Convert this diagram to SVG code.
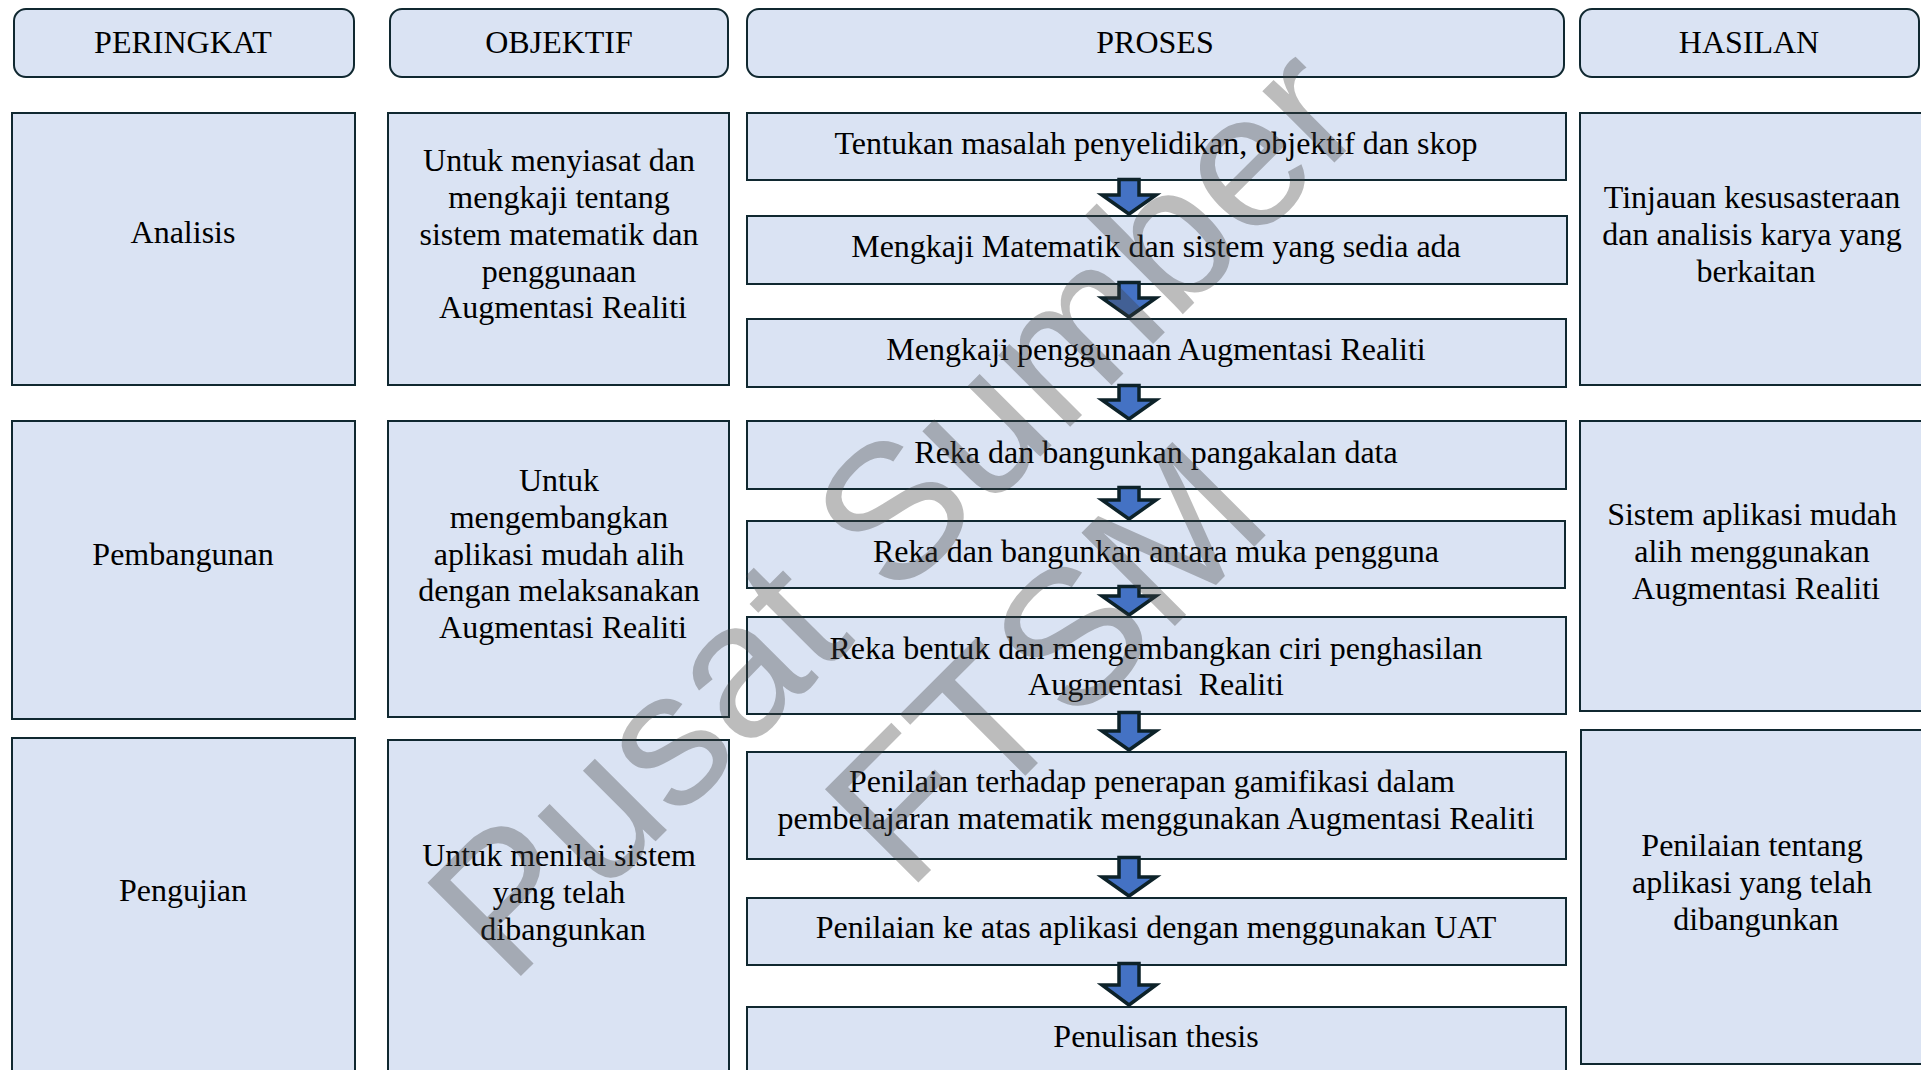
<svg xmlns="http://www.w3.org/2000/svg" width="1921" height="1070" viewBox="0 0 1921 1070">
  <style>
    .box { fill: #DAE3F3; stroke: #102830; stroke-width: 2; }
    .lbl { font-family: "Liberation Serif", "Times New Roman", serif; font-size: 32px; fill: #000; text-anchor: middle; }
    .arrow { fill: #4472C4; stroke: #0D2229; stroke-width: 3.5; stroke-linejoin: miter; }
    .wm { font-family: "Liberation Sans", Arial, sans-serif; font-size: 192px; fill: #404040; fill-opacity: 0.35; text-anchor: middle; }
  </style>
  <rect width="1921" height="1070" fill="#FFFFFF"/>

  <!-- column headers -->
  <g id="hdr-peringkat">
    <rect class="box" x="14" y="9" width="340" height="68" rx="12"/>
    <text class="lbl" x="183" y="53">PERINGKAT</text>
  </g>
  <g id="hdr-objektif">
    <rect class="box" x="390" y="9" width="338" height="68" rx="12"/>
    <text class="lbl" x="559" y="53">OBJEKTIF</text>
  </g>
  <g id="hdr-proses">
    <rect class="box" x="747" y="9" width="817" height="68" rx="12"/>
    <text class="lbl" x="1155" y="53">PROSES</text>
  </g>
  <g id="hdr-hasilan">
    <rect class="box" x="1580" y="9" width="339" height="68" rx="12"/>
    <text class="lbl" x="1749" y="53">HASILAN</text>
  </g>

  <!-- stage column -->
  <g id="stage-analisis">
    <rect class="box" x="12" y="113" width="343" height="272"/>
    <text class="lbl" x="183" y="243">Analisis</text>
  </g>
  <g id="stage-pembangunan">
    <rect class="box" x="12" y="421" width="343" height="298"/>
    <text class="lbl" x="183" y="565">Pembangunan</text>
  </g>
  <g id="stage-pengujian">
    <rect class="box" x="12" y="738" width="343" height="345"/>
    <text class="lbl" x="183" y="901">Pengujian</text>
  </g>

  <!-- objective column -->
  <g id="obj-analisis">
    <rect class="box" x="388" y="113" width="341" height="272"/>
    <text class="lbl" x="563" y="171">
      <tspan x="563" y="171">Untuk menyiasat dan</tspan>
      <tspan x="563" y="208">mengkaji tentang</tspan>
      <tspan x="563" y="245">sistem matematik dan</tspan>
      <tspan x="563" y="282">penggunaan</tspan>
      <tspan x="563" y="318">Augmentasi Realiti</tspan>
    </text>
  </g>
  <g id="obj-pembangunan">
    <rect class="box" x="388" y="421" width="341" height="296"/>
    <text class="lbl" x="563" y="491">
      <tspan x="563" y="491">Untuk</tspan>
      <tspan x="563" y="528">mengembangkan</tspan>
      <tspan x="563" y="565">aplikasi mudah alih</tspan>
      <tspan x="563" y="601">dengan melaksanakan</tspan>
      <tspan x="563" y="638">Augmentasi Realiti</tspan>
    </text>
  </g>
  <g id="obj-pengujian">
    <rect class="box" x="388" y="740" width="341" height="345"/>
    <text class="lbl" x="563" y="866">
      <tspan x="563" y="866">Untuk menilai sistem</tspan>
      <tspan x="563" y="903">yang telah</tspan>
      <tspan x="563" y="940">dibangunkan</tspan>
    </text>
  </g>

  <!-- process column -->
  <g id="proc-1">
    <rect class="box" x="747" y="113" width="819" height="67"/>
    <text class="lbl" x="1156" y="154">Tentukan masalah penyelidikan, objektif dan skop</text>
  </g>
  <g id="proc-2">
    <rect class="box" x="747" y="216" width="820" height="68"/>
    <text class="lbl" x="1156" y="257">Mengkaji Matematik dan sistem yang sedia ada</text>
  </g>
  <g id="proc-3">
    <rect class="box" x="747" y="319" width="819" height="68"/>
    <text class="lbl" x="1156" y="360">Mengkaji penggunaan Augmentasi Realiti</text>
  </g>
  <g id="proc-4">
    <rect class="box" x="747" y="421" width="819" height="68"/>
    <text class="lbl" x="1156" y="463">Reka dan bangunkan pangakalan data</text>
  </g>
  <g id="proc-5">
    <rect class="box" x="747" y="521" width="818" height="67"/>
    <text class="lbl" x="1156" y="562">Reka dan bangunkan antara muka pengguna</text>
  </g>
  <g id="proc-6">
    <rect class="box" x="747" y="617" width="819" height="97"/>
    <text class="lbl" x="1156" y="659" xml:space="preserve"><tspan x="1156" y="659">Reka bentuk dan mengembangkan ciri penghasilan</tspan><tspan x="1156" y="695">Augmentasi  Realiti</tspan></text>
  </g>
  <g id="proc-7">
    <rect class="box" x="747" y="752" width="819" height="107"/>
    <text class="lbl" x="1156" y="792">
      <tspan x="1156" y="792">Penilaian terhadap penerapan gamifikasi dalam</tspan>
      <tspan x="1156" y="829">pembelajaran matematik menggunakan Augmentasi Realiti</tspan>
    </text>
  </g>
  <g id="proc-8">
    <rect class="box" x="747" y="898" width="819" height="67"/>
    <text class="lbl" x="1156" y="938">Penilaian ke atas aplikasi dengan menggunakan UAT</text>
  </g>
  <g id="proc-9">
    <rect class="box" x="747" y="1007" width="819" height="80"/>
    <text class="lbl" x="1156" y="1047">Penulisan thesis</text>
  </g>

  <!-- outcome column -->
  <g id="out-analisis">
    <rect class="box" x="1580" y="113" width="350" height="272"/>
    <text class="lbl" x="1756" y="208">
      <tspan x="1756" y="208">Tinjauan kesusasteraan</tspan>
      <tspan x="1756" y="245">dan analisis karya yang</tspan>
      <tspan x="1756" y="282">berkaitan</tspan>
    </text>
  </g>
  <g id="out-pembangunan">
    <rect class="box" x="1580" y="421" width="350" height="290"/>
    <text class="lbl" x="1756" y="525">
      <tspan x="1756" y="525">Sistem aplikasi mudah</tspan>
      <tspan x="1756" y="562">alih menggunakan</tspan>
      <tspan x="1756" y="599">Augmentasi Realiti</tspan>
    </text>
  </g>
  <g id="out-pengujian">
    <rect class="box" x="1581" y="730" width="350" height="334"/>
    <text class="lbl" x="1756" y="856">
      <tspan x="1756" y="856">Penilaian tentang</tspan>
      <tspan x="1756" y="893">aplikasi yang telah</tspan>
      <tspan x="1756" y="930">dibangunkan</tspan>
    </text>
  </g>

  <!-- block arrows between process steps -->
  <g id="connectors">
    <path class="arrow" d="M1119,179.5 H1139 V195 H1156 L1129,214 L1102,195 H1119 Z"/>
    <path class="arrow" d="M1119,282.5 H1139 V298 H1156 L1129,317 L1102,298 H1119 Z"/>
    <path class="arrow" d="M1119,385.5 H1139 V400 H1156 L1129,419 L1102,400 H1119 Z"/>
    <path class="arrow" d="M1119,487.5 H1139 V500 H1156 L1129,519 L1102,500 H1119 Z"/>
    <path class="arrow" d="M1119,586.5 H1139 V596 H1156 L1129,615 L1102,596 H1119 Z"/>
    <path class="arrow" d="M1119,712.5 H1139 V731 H1156 L1129,750 L1102,731 H1119 Z"/>
    <path class="arrow" d="M1119,857.5 H1139 V877 H1156 L1129,896 L1102,877 H1119 Z"/>
    <path class="arrow" d="M1119,963.5 H1139 V985 H1156 L1129,1005 L1102,985 H1119 Z"/>
  </g>

  <!-- diagonal watermark -->
  <g transform="translate(940,557) rotate(-45)">
    <text class="wm" x="0" y="0">Pusat Sumber</text>
    <text class="wm" x="0" y="215">FTSM</text>
  </g>
</svg>
